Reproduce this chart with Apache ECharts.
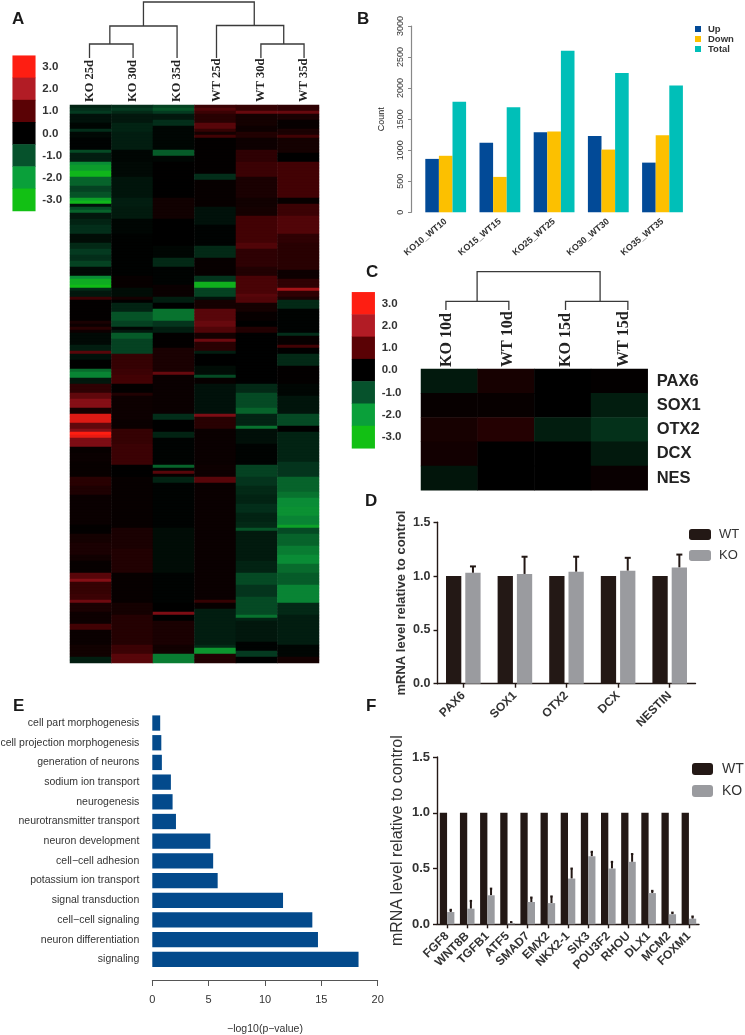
<!DOCTYPE html>
<html><head><meta charset="utf-8">
<style>html,body{margin:0;padding:0;background:#fff}#c{width:745px;height:1035px}</style>
<script src="https://cdn.jsdelivr.net/npm/echarts@6/dist/echarts.min.js"></script>
</head><body><div id="c"></div>
<script>
// ---------- data ----------
const scaleTicks=['3.0','2.0','1.0','0.0','-1.0','-2.0','-3.0'];
const scaleValues=[3,2,1,0,-1,-2,-3];
const heatAColumns=['KO 25d','KO 30d','KO 35d','WT 25d','WT 30d','WT 35d'];
const heatARowCount=186;
// each band: [row where it ends, expression value]
const ko25=[[1,-.6],[2,-.8],[3,-1],[6,-.3],[8,-.1],[9,-.8],[11,-.15],[15,-.05],[16,-1.2],[19,-.5],[20,-2],[22,-2.3],[24,-2.8],[27,-1.5],[29,-1.1],[31,-1.3],[32,-2.4],[33,-2.8],[34,-.3],[35,-1.2],[36,-1.5],[38,-.4],[40,-.6],[43,-.8],[46,-.2],[48,-.7],[50,-1],[52,-.8],[54,-1.1],[57,-.15],[58,-2],[60,-2.6],[61,-2.9],[62,-.7],[64,-.4],[65,.9],[72,.05],[73,.4],[74,.2],[75,.6],[76,.2],[80,-.15],[82,-.5],[83,1.3],[85,-.3],[88,0],[89,-1.6],[91,-1.9],[93,-.4],[96,.7],[98,1.4],[101,1.9],[103,.3],[106,2.7],[108,1.4],[109,1.9],[110,3],[111,2.8],[114,1.8],[116,.1],[119,.15],[124,.1],[127,.6],[130,.45],[140,.15],[143,.05],[146,.3],[150,.4],[152,.25],[156,.1],[158,1.3],[159,1.9],[163,.8],[165,.9],[166,1.6],[169,.4],[173,.2],[175,1],[180,.15],[184,.25],[186,-.5]];
const ko30=[[1,-.8],[2,-1],[3,-.7],[6,-.4],[9,-.6],[15,-.5],[19,-.1],[24,-.15],[31,-.35],[34,-.5],[38,-.45],[43,-.1],[57,-.03],[61,.1],[64,-.2],[65,.3],[66,0],[69,-.6],[72,-1.3],[74,-1.1],[75,-.1],[76,-.4],[78,-1.4],[83,-1.1],[88,.8],[90,.9],[93,1],[96,.05],[97,.5],[105,.2],[108,.15],[113,.8],[120,.9],[124,.02],[141,.1],[148,.4],[156,.5],[166,.1],[170,.3],[180,.55],[183,.9],[186,1.3]];
const ko35=[[1,-1.1],[2,-1.3],[3,-1],[5,-.4],[7,-.8],[15,-.1],[17,-1.4],[19,-.1],[31,.02],[38,.25],[47,0],[51,-.1],[54,-.7],[60,-.05],[64,.15],[66,-.5],[68,0],[72,-1.7],[74,-.9],[76,-.5],[81,.05],[89,.4],[90,1.5],[103,.15],[105,-.8],[109,0],[111,-.6],[120,-.05],[121,-1.5],[122,-.1],[123,1.3],[124,.1],[126,-.6],[141,-.05],[156,-.2],[166,-.05],[169,0],[170,1.8],[172,0],[180,.4],[183,.25],[186,-1.8]];
const wt25=[[1,.9],[2,1.2],[3,.9],[6,.6],[8,1.3],[9,.8],[10,.3],[11,1],[23,.05],[25,-.8],[34,.1],[40,-.3],[47,-.05],[51,-.7],[57,.1],[59,-.9],[61,-2.7],[64,-1.1],[65,-.3],[68,.3],[72,1.3],[74,1.5],[76,1.2],[78,.3],[79,1.6],[82,.6],[83,-.5],[87,0],[90,-.2],[91,-1.2],[93,.1],[103,-.3],[104,1.8],[108,.6],[120,.15],[124,.2],[126,1.3],[165,.15],[166,.8],[168,.1],[180,-.5],[181,-.7],[183,-2.2],[186,.5]];
const wt30=[[2,.8],[3,1.5],[7,.3],[9,.2],[11,.5],[15,.2],[19,.7],[24,.9],[31,.4],[34,.25],[37,.3],[46,1],[48,1.2],[54,.7],[57,.5],[63,1.1],[64,1.3],[66,1.2],[69,.3],[72,.1],[74,0],[76,.5],[93,-.02],[96,-.7],[101,-1.2],[103,-1.5],[107,-.6],[108,-1.7],[113,-.25],[120,-.05],[124,-1.1],[127,-.9],[130,-.7],[133,-.6],[136,-.8],[139,-.6],[141,-.7],[142,-1.3],[152,-.45],[156,-.6],[160,-1.2],[164,-.9],[170,-1.2],[171,-1.7],[172,-.6],[179,-.4],[182,-.05],[184,-1],[186,0]];
const wt35=[[2,.7],[3,1.5],[5,.4],[8,.1],[10,.4],[11,1],[16,.3],[19,0],[31,1],[33,.1],[37,.9],[43,1.2],[46,.7],[55,.6],[58,.2],[61,.7],[62,2.2],[64,.7],[65,.4],[68,-.7],[76,-.05],[77,-.8],[80,.1],[81,1],[83,0],[87,-.7],[93,.05],[97,-.1],[103,-.35],[107,-1.2],[109,0],[119,-.6],[124,-.9],[129,-1.5],[131,-1.7],[134,-2],[137,-2.1],[140,-1.9],[141,-2.4],[143,-1.2],[147,-1.5],[150,-1.8],[153,-2],[156,-1.6],[160,-1.4],[166,-1.9],[170,-.7],[180,-.5],[184,-.1],[186,.3]];

const heatAMerges=[[.47,1.52,58,44,44],[.96,2.58,76,58,44],[4.6,5.64,58,44,44],[3.53,5.15,76.5,44,58],[1.77,4.44,100,76,76.5]];
const heatALeaves=[.47,1.52,2.58,3.53,4.6,5.64];

const heatCColumns=['KO 10d','WT 10d','KO 15d','WT 15d'];
const heatCGenes=['PAX6','SOX1','OTX2','DCX','NES'];
const pax6Row=[-.3,.25,0,.03];
const sox1Row=[.08,.08,0,-.35];
const otx2Row=[.25,.4,-.35,-.6];
const dcxRow=[.2,0,0,-.3];
const nesRow=[-.25,0,0,.1];
const heatCMerges=[[.44,1.55,65.7,57,57],[2.55,3.65,65.7,57,57],[.99,3.16,95.3,65.7,65.7]];
const heatCLeaves=[.45,1.53,2.55,3.58];

const bCategories=['KO10_WT10','KO15_WT15','KO25_WT25','KO30_WT30','KO35_WT35'];
const bUp=[860,1120,1290,1230,800];
const bDown=[910,570,1300,1010,1240];
const bTotal=[1780,1690,2600,2245,2040];

const dCategories=['PAX6','SOX1','OTX2','DCX','NESTIN'];
const dWT=[1,1,1,1,1];
const dKO=[1.03,1.02,1.04,1.05,1.08];
const dKOTop=[1.09,1.18,1.18,1.17,1.2];

const eTerms=['signaling','neuron differentiation','cell\u2212cell signaling','signal transduction','potassium ion transport','cell\u2212cell adhesion','neuron development','neurotransmitter transport','neurogenesis','sodium ion transport','generation of neurons','cell projection morphogenesis','cell part morphogenesis'];
const eValues=[18.3,14.7,14.2,11.6,5.8,5.4,5.15,2.1,1.8,1.65,.85,.8,.7];

const fCategories=['FGF8','WNT8B','TGFB1','ATF5','SMAD7','EMX2','NKX2-1','SIX3','POU3F2','RHOU','DLX1','MCM2','FOXM1'];
const fWT=[1,1,1,1,1,1,1,1,1,1,1,1,1];
const fKO=[.11,.14,.26,.01,.2,.19,.41,.61,.5,.56,.28,.09,.05];
const fKOTop=[.13,.21,.32,.02,.24,.25,.5,.65,.56,.63,.3,.105,.07];

// ---------- helpers ----------
const SANS='"Liberation Sans",Arial,sans-serif', SERIF='"Liberation Serif","Times New Roman",serif';
const expand=b=>{const o=[];let r=0;b.forEach(([e,v])=>{while(r<e&&r<heatARowCount){o.push(v);r++}});while(r<heatARowCount){o.push(0);r++}return o};
const heatAData=[];
[ko25,ko30,ko35,wt25,wt30,wt35].forEach((b,c)=>expand(b).forEach((v,r)=>heatAData.push([c,r,v])));
const heatCData=[];
[pax6Row,sox1Row,otx2Row,dcxRow,nesRow].forEach((row,r)=>row.forEach((v,c)=>heatCData.push([c,r,v])));
const scaleData=scaleValues.map((v,i)=>[0,i,v]);
const rowNames=Array.from({length:heatARowCount},(_,i)=>String(i));
const hiddenCat=(data,extra)=>Object.assign({type:'category',data,show:false,boundaryGap:true},extra||{});
const heat=(x,y,data)=>({type:'heatmap',xAxisIndex:x,yAxisIndex:y,data,progressive:0,emphasis:{disabled:true},silent:true});
const branch=(x,y,merges)=>({type:'custom',xAxisIndex:x,yAxisIndex:y,silent:true,clip:false,data:merges,
  renderItem:(p,api)=>{const [a,b,h,l,r]=[0,1,2,3,4].map(i=>api.value(i));
    return {type:'polyline',shape:{points:[api.coord([a,l]),api.coord([a,h]),api.coord([b,h]),api.coord([b,r])]},style:{stroke:'#3a3a3a',lineWidth:1.3,fill:null}}}});
const leafText=(x,y,leaves,names,size)=>({type:'custom',xAxisIndex:x,yAxisIndex:y,silent:true,clip:false,data:leaves.map(v=>[v,0]),
  renderItem:(p,api)=>{const c=api.coord([api.value(0),0]);
    return {type:'text',x:c[0],y:c[1],rotation:Math.PI/2,style:{text:names[p.dataIndex],textAlign:'left',textVerticalAlign:'middle',fontFamily:SERIF,fontWeight:'bold',fontSize:size,fill:'#222'}}}});
const errs=(x,y,vals,tops,frac,capHalf,w)=>({type:'custom',xAxisIndex:x,yAxisIndex:y,silent:true,clip:false,z:1,data:vals.map((v,i)=>[i,v,tops[i]]),
  renderItem:(p,api)=>{const a=api.coord([api.value(0),api.value(1)]),b=api.coord([api.value(0),api.value(2)]);
    const cx=a[0]+api.size([1,0])[0]*frac;
    return {type:'group',children:[
      {type:'line',shape:{x1:cx,y1:a[1],x2:cx,y2:b[1]},style:{stroke:'#231815',lineWidth:w}},
      {type:'line',shape:{x1:cx-capHalf,y1:b[1],x2:cx+capHalf,y2:b[1]},style:{stroke:'#231815',lineWidth:w}}]}}});
const letter=(text,left,top)=>({text,left,top,padding:0,textStyle:{fontFamily:SANS,fontWeight:'bold',fontSize:17,color:'#1a1a1a'}});
const scaleY=()=>({type:'category',data:scaleTicks,inverse:true,position:'right',axisLine:{show:false},axisTick:{show:false},
  axisLabel:{fontFamily:SANS,fontWeight:'bold',fontSize:11.5,color:'#333',margin:7}});
const expressY=(gi,name,gap,nameSize,nameWeight,lblSize)=>({type:'value',gridIndex:gi,min:0,max:1.5,interval:.5,
  name,nameLocation:'middle',nameGap:gap,nameRotate:90,nameTextStyle:{fontFamily:SANS,fontSize:nameSize,fontWeight:nameWeight,color:'#333'},
  splitLine:{show:false},axisLine:{show:true,lineStyle:{color:'#231815',width:1.4}},axisTick:{show:true,length:4,lineStyle:{color:'#231815',width:1.4}},
  axisLabel:{fontFamily:SANS,fontWeight:'bold',fontSize:lblSize,color:'#333',margin:7,formatter:v=>v.toFixed(1)}});
const expressX=(gi,data,size)=>({type:'category',gridIndex:gi,data,axisLine:{lineStyle:{color:'#231815',width:1.4}},
  axisTick:{show:true,alignWithLabel:true,length:4,lineStyle:{color:'#231815',width:1.4}},
  axisLabel:{fontFamily:SANS,fontSize:size,fontWeight:'bold',color:'#333',rotate:45,margin:10,interval:0}});
const G=g=>Object.assign({outerBoundsMode:'none',containLabel:false},g);

// ---------- option ----------
const option={
 animation:false,backgroundColor:'#fff',
 title:[letter('A',12,11),letter('B',357,11),letter('C',366,264),letter('D',365,493),letter('E',13,698),letter('F',366,698)],
 visualMap:[
  {type:'continuous',show:false,min:-3,max:3,seriesIndex:[0],
   inRange:{color:['#12c014','#0a8c36','#043a20','#000000','#420204','#8c1018','#fe1e12']}},
  {type:'continuous',show:false,min:-3,max:3,seriesIndex:[1,2,3],
   inRange:{color:['#12c014','#0aa03a','#06522c','#000000','#5a0205','#b21c25','#fe1e12']}}],
 grid:[
  G({left:70,top:105,width:249,height:558}),       // A heat
  G({left:70,top:0,width:249,height:102}),         // A tree
  G({left:12.7,top:55.7,width:22.6,height:155.3}), // A scale
  G({left:418.6,top:26,width:271,height:186.3}),   // B
  G({left:421,top:369,width:226.7,height:121.3}),  // C heat
  G({left:421,top:267,width:226.7,height:100}),    // C tree
  G({left:352,top:292.3,width:22.7,height:156}),   // C scale
  G({left:437.5,top:522.3,width:258,height:161.4}),// D
  G({left:152.3,top:713.2,width:225.4,height:256}),// E
  G({left:437,top:757,width:262,height:167.3})     // F
 ],
 xAxis:[
  hiddenCat(heatAColumns,{gridIndex:0}),
  {type:'value',gridIndex:1,min:0,max:6,show:false},
  hiddenCat([''],{gridIndex:2}),
  {type:'category',gridIndex:3,data:bCategories,axisLine:{show:false},axisTick:{show:false},
    axisLabel:{fontFamily:SANS,fontWeight:'bold',fontSize:9,color:'#333',rotate:40,margin:8,interval:0}},
  hiddenCat(heatCColumns,{gridIndex:4}),
  {type:'value',gridIndex:5,min:0,max:4,show:false},
  hiddenCat([''],{gridIndex:6}),
  expressX(7,dCategories,12),
  {type:'value',gridIndex:8,min:0,max:20,interval:5,offset:10.8,splitLine:{show:false},
    axisLine:{show:true,lineStyle:{color:'#555'}},axisTick:{show:true,length:6,lineStyle:{color:'#555'}},
    axisLabel:{fontFamily:SANS,fontSize:11,color:'#333',margin:14},
    name:'\u2212log10(p\u2212value)',nameLocation:'middle',nameGap:44,nameTextStyle:{fontFamily:SANS,fontSize:10.5,color:'#333'}},
  expressX(9,fCategories,12)
 ],
 yAxis:[
  hiddenCat(rowNames,{gridIndex:0,inverse:true}),
  {type:'value',gridIndex:1,min:0,max:102,show:false},
  Object.assign(scaleY(),{gridIndex:2}),
  {type:'value',gridIndex:3,min:0,max:3000,interval:500,offset:7.6,splitLine:{show:false},
    axisLine:{show:true,lineStyle:{color:'#888',width:1.2}},axisTick:{show:true,length:3,lineStyle:{color:'#888'}},
    axisLabel:{fontFamily:SANS,fontSize:9,color:'#333',rotate:90,margin:6,formatter:v=>String(v)},
    name:'Count',nameLocation:'middle',nameGap:25,nameRotate:90,nameTextStyle:{fontFamily:SANS,fontSize:9,color:'#222'}},
  Object.assign({gridIndex:4,inverse:true,type:'category',data:heatCGenes,position:'right',axisLine:{show:false},axisTick:{show:false},
    axisLabel:{fontFamily:SANS,fontWeight:'bold',fontSize:16.5,color:'#222',margin:9}}),
  {type:'value',gridIndex:5,min:0,max:100,show:false},
  Object.assign(scaleY(),{gridIndex:6}),
  expressY(7,'mRNA level relative to control',30,13,'bold',12.5),
  {type:'category',gridIndex:8,data:eTerms,axisLine:{show:false},axisTick:{show:false},
    axisLabel:{fontFamily:SANS,fontSize:10.5,color:'#333',margin:13,interval:0}},
  expressY(9,'mRNA level relative to control',31,16,'normal',13)
 ],
 legend:[
  {data:['Up','Down','Total'],orient:'vertical',left:695,top:24,itemWidth:6,itemHeight:6,itemGap:0,padding:0,icon:'rect',
   textStyle:{fontFamily:SANS,fontWeight:'bold',fontSize:9.5,color:'#333',padding:[0,0,0,2]},selectedMode:false},
  {data:['WT','KO'],orient:'vertical',left:689,top:528,itemWidth:22,itemHeight:11,itemGap:8,padding:0,selectedMode:false,
   textStyle:{fontFamily:SANS,fontSize:13,color:'#333',padding:[0,0,0,3]},icon:'roundRect'},
  {data:['WT','KO'],orient:'vertical',left:692,top:762,itemWidth:21,itemHeight:12,itemGap:8,padding:0,selectedMode:false,
   textStyle:{fontFamily:SANS,fontSize:14,color:'#333',padding:[0,0,0,4]},icon:'roundRect'}
 ],
 series:[
  heat(0,0,heatAData),
  heat(2,2,scaleData),
  heat(4,4,heatCData),
  heat(6,6,scaleData),
  branch(1,1,heatAMerges),
  leafText(1,1,heatALeaves,heatAColumns,12.5),
  branch(5,5,heatCMerges),
  leafText(5,5,heatCLeaves,heatCColumns,16),
  {type:'bar',name:'Up',xAxisIndex:3,yAxisIndex:3,data:bUp,barWidth:13.6,barGap:'0%',itemStyle:{color:'#024a97'}},
  {type:'bar',name:'Down',xAxisIndex:3,yAxisIndex:3,data:bDown,barWidth:13.6,barGap:'0%',itemStyle:{color:'#fcc000'}},
  {type:'bar',name:'Total',xAxisIndex:3,yAxisIndex:3,data:bTotal,barWidth:13.6,barGap:'0%',itemStyle:{color:'#00bfb8'}},
  {type:'bar',name:'WT',xAxisIndex:7,yAxisIndex:7,data:dWT,barWidth:15.3,barGap:'26%',itemStyle:{color:'#231815'}},
  {type:'bar',name:'KO',xAxisIndex:7,yAxisIndex:7,data:dKO,barWidth:15.3,barGap:'26%',itemStyle:{color:'#9a9b9f'}},
  errs(7,7,dKO,dKOTop,.187,3,2),
  {type:'bar',xAxisIndex:8,yAxisIndex:8,data:eValues,barWidth:15.3,itemStyle:{color:'#034a8c'}},
  {type:'bar',name:'WT',xAxisIndex:9,yAxisIndex:9,data:fWT,barWidth:7.3,barGap:'0%',itemStyle:{color:'#231815'}},
  {type:'bar',name:'KO',xAxisIndex:9,yAxisIndex:9,data:fKO,barWidth:7.3,barGap:'0%',itemStyle:{color:'#9a9b9f'}},
  errs(9,9,fKO,fKOTop,.181,1.2,2)
 ]
};
const chart=echarts.init(document.getElementById('c'),null,{renderer:'canvas'});
chart.setOption(option);
</script></body></html>
